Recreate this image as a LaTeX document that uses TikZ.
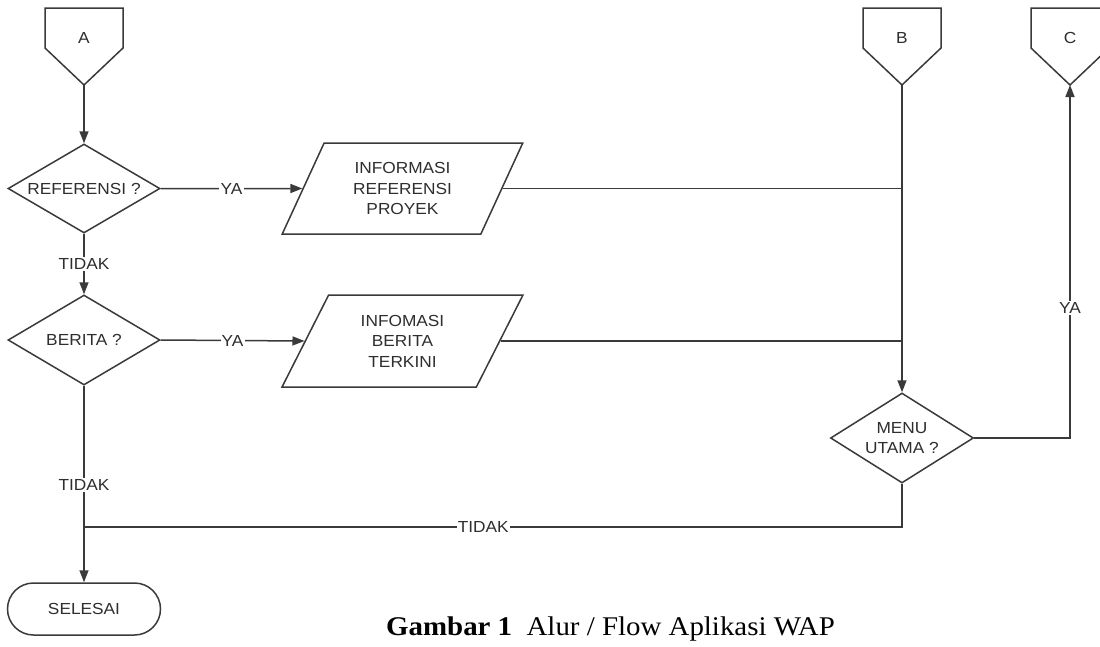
\documentclass[tikz,border=0pt]{standalone}
\usepackage{fontspec}
\setmainfont{Liberation Serif}
\newfontfamily\diagfont{Liberation Sans}[FakeStretch=1.08]
\newfontfamily\capfont{Liberation Serif}[FakeStretch=1.07]
\usetikzlibrary{shapes.geometric,shapes.misc,arrows.meta}
\definecolor{ln}{HTML}{3A3A3A}
\definecolor{tx}{HTML}{2E2E2E}
\newcommand\offpagecon[4]{% name, x, label, top y
  \draw[shapeline] (#2-39,#4) -- (#2+39,#4) -- (#2+39,#4+40) -- (#2,#4+77) -- (#2-39,#4+40) -- cycle;
  \node[txt] (#1) at (#2,#4+30) {#3};
  \coordinate (#1tip) at (#2,#4+77);
}
\begin{document}
\begin{tikzpicture}[x=1pt,y=-1pt,
  shapeline/.style={draw=ln,line width=1.5pt,line join=miter},
  txt/.style={font=\diagfont\fontsize{16}{20.5}\selectfont,text=tx,align=center,inner sep=0pt},
  decision/.style={diamond,shape aspect=1.7,shapeline,txt},
  io/.style={trapezium,trapezium left angle=63.2,trapezium right angle=116.8,trapezium stretches=true,shapeline,txt},
  terminal/.style={rounded rectangle,shapeline,txt},
  conn/.style={draw=ln,line width=1.5pt},
  arr/.style={conn,-{Triangle[length=12pt,width=9pt]}},
  lbl/.style={txt,fill=white,inner sep=1.2pt}
]
\useasboundingbox (0,0) rectangle (1100,646);
\fill[white] (0,0) rectangle (1100,646);

\offpagecon{A}{84}{A}{8}
\offpagecon{B}{902}{B}{8}
\offpagecon{C}{1070}{C}{8}

\node[decision,minimum width=152pt,minimum height=89pt] (ref) at (84,188.5) {REFERENSI ?};
\node[decision,minimum width=152pt,minimum height=90pt] (ber) at (84,340) {BERITA ?};
\node[io,minimum width=241pt,minimum height=91pt] (p1) at (402.5,188.5) {INFORMASI\\REFERENSI\\PROYEK};
\node[io,minimum width=241pt,minimum height=92pt] (p2) at (402.5,341) {INFOMASI\\BERITA\\TERKINI};
\node[decision,shape aspect=1.59,minimum width=143pt,minimum height=90pt] (menu) at (902,438) {MENU\\UTAMA ?};
\node[terminal,minimum width=153pt,minimum height=52pt] (sel) at (84,609) {SELESAI};
\coordinate (join) at (84,527);

\draw[arr] (Atip) -- (ref.north);
\draw[arr] (ref.south) -- node[lbl] {TIDAK} (ber.north);
\draw[arr] (ref.east) -- node[lbl] {YA} (p1.west);
\draw[arr] (ber.east) -- node[lbl] {YA} (p2.west);
\draw[conn] (p1.east) -- (p1.east -| Btip);
\draw[conn] (p2.east) -- (p2.east -| Btip);
\draw[arr] (Btip) -- (menu.north);
\draw[arr] (menu.east) -| node[lbl,pos=0.684] {YA} (Ctip);
\draw[arr] (ber.south) -- node[lbl,pos=0.505] {TIDAK} (sel.north);
\draw[conn] (menu.south) |- node[lbl,pos=0.756] {TIDAK} (join);

\node[anchor=base west,font=\capfont\fontsize{27}{30}\selectfont,inner sep=0pt] (cap) at (386,635) {\textbf{Gambar 1}\ \ Alur / Flow Aplikasi WAP};
\end{tikzpicture}
\end{document}
